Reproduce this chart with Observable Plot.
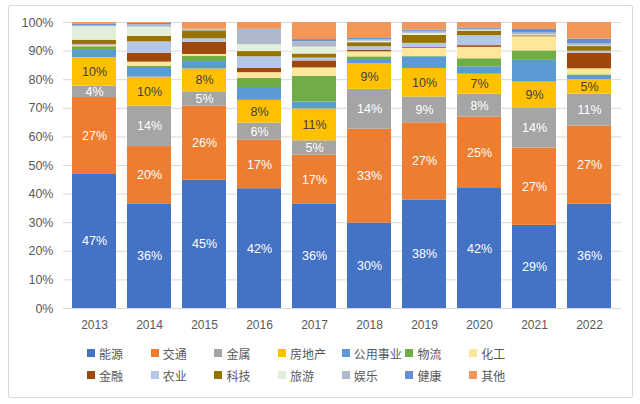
<!DOCTYPE html>
<html><head><meta charset="utf-8">
<script src="https://cdn.jsdelivr.net/npm/d3@7"></script>
<script src="https://cdn.jsdelivr.net/npm/@observablehq/plot@0.6"></script>
<style>
body{margin:0;background:#fff;font-family:"Liberation Sans",Arial,"Noto Sans CJK SC",sans-serif;}
#wrap{position:relative;width:640px;height:404px;overflow:hidden;}
#frame{position:absolute;left:8px;top:5px;width:623px;height:391px;border:1px solid #d9d9d9;border-radius:2px;pointer-events:none;}
#chart{position:absolute;left:0;top:0;}
#legend{position:absolute;left:87px;top:342px;display:grid;grid-template-columns:repeat(7,63.7px);grid-auto-rows:22px;}
.item{display:flex;align-items:center;font-family:"Noto Sans CJK SC",sans-serif;font-size:12px;color:#595959;white-space:nowrap;}
.sw{width:8px;height:8px;margin-right:4px;flex:none;}
</style></head>
<body><div id="wrap"><div id="chart"></div><div id="legend"></div><div id="frame"></div></div>
<script>
const years = ["2013","2014","2015","2016","2017","2018","2019","2020","2021","2022"];
const categories = ["能源","交通","金属","房地产","公用事业","物流","化工","金融","农业","科技","旅游","娱乐","健康","其他"];
const colors = ["#4472C4","#ED7D31","#A5A5A5","#FFC000","#5B9BD5","#70AD47","#FFE699","#9E480E","#B4C7E7","#997300","#E2EFDA","#ADB9CA","#698ED0","#F1975A"];
const yTicks = [0,0.1,0.2,0.3,0.4,0.5,0.6,0.7,0.8,0.9,1];

const energy        = [47,36,45,42,36,30,38,42,29,36];
const transport     = [27,20,26,17,17,33,27,25,27,27];
const metals        = [4,14,5,6,5,14,9,8,14,11];
const realEstate    = [10,10,8,8,11,9,10,7,9,5];
const utilities     = [2.5,3,2.6,4.5,2.4,1.5,4,2.6,7.6,1.4];
const logistics     = [1.3,0.8,1.9,3.2,8.9,0.9,0.2,2.8,3.3,0.2];
const chemicals     = [0.4,1.4,0.6,2,2.9,1.8,2.9,4,4.9,2.1];
const finance       = [0.2,3,4.3,1.5,2.4,0.6,0.3,0.6,0.1,5.4];
const agriculture   = [0.2,4,1.2,4.1,1,1.2,1.4,3.5,0.2,0.7];
const tech          = [1.5,1.9,2.8,1.8,1.4,1.4,2.8,1.6,0.3,1.6];
const tourism       = [4.7,3.2,0.2,2.4,2.4,0.5,0.7,0.3,0.2,0.2];
const entertainment = [0.4,0.8,0.2,5.3,1.9,0.5,0.7,0.3,0.5,0.7];
const health        = [0.6,0.5,0.1,0.1,0.7,0.5,0.5,0.5,1.3,1.7];
const other         = [0.5,0.3,2.4,2.4,5.9,5.6,2.6,1.9,2.4,5.7];

const series = [energy,transport,metals,realEstate,utilities,logistics,chemicals,finance,agriculture,tech,tourism,entertainment,health,other];
const whiteLabelled = ["能源","交通","金属"];
const darkLabelled = ["房地产"];

const rows = [];
categories.forEach((c, ci) => {
  years.forEach((y, yi) => rows.push({year: y, category: c, value: series[ci][yi]}));
});

const fmt = d => `${Math.round(d.value)}%`;

const chart = Plot.plot({
  width: 640, height: 340,
  marginLeft: 63, marginRight: 19, marginTop: 22, marginBottom: 32,
  style: {fontFamily: "Liberation Sans, Arial, sans-serif", background: "transparent", overflow: "visible"},
  x: {domain: years, paddingInner: 0.195, paddingOuter: 0.0975, label: null},
  y: {domain: [0, 1], label: null},
  color: {domain: categories, range: colors},
  marks: [
    Plot.gridY(yTicks, {stroke: "#d9d9d9", strokeOpacity: 1}),
    Plot.barY(rows, Plot.stackY({offset: "normalize"}, {x: "year", y: "value", fill: "category"})),
    Plot.text(rows, Plot.stackY({offset: "normalize"}, {x: "year", y: "value", z: "category",
      text: d => whiteLabelled.includes(d.category) ? fmt(d) : null, fill: "white", fontSize: 12.5})),
    Plot.text(rows, Plot.stackY({offset: "normalize"}, {x: "year", y: "value", z: "category",
      text: d => darkLabelled.includes(d.category) ? fmt(d) : null, fill: "#404040", fontSize: 12.5})),
    Plot.ruleY([0], {stroke: "#d9d9d9"}),
    Plot.axisY(yTicks, {tickFormat: d3.format(".0%"), tickSize: 0, tickPadding: 10, fontSize: 12.5, fill: "#595959", label: null}),
    Plot.axisX({tickSize: 0, tickPadding: 12, fontSize: 12, fill: "#595959", label: null})
  ]
});
document.getElementById("chart").appendChild(chart);

const legend = document.getElementById("legend");
categories.forEach((c, i) => {
  const item = document.createElement("div");
  item.className = "item";
  const sw = document.createElement("span");
  sw.className = "sw";
  sw.style.background = colors[i];
  const t = document.createElement("span");
  t.textContent = c;
  item.appendChild(sw); item.appendChild(t);
  legend.appendChild(item);
});
</script>
</body></html>
